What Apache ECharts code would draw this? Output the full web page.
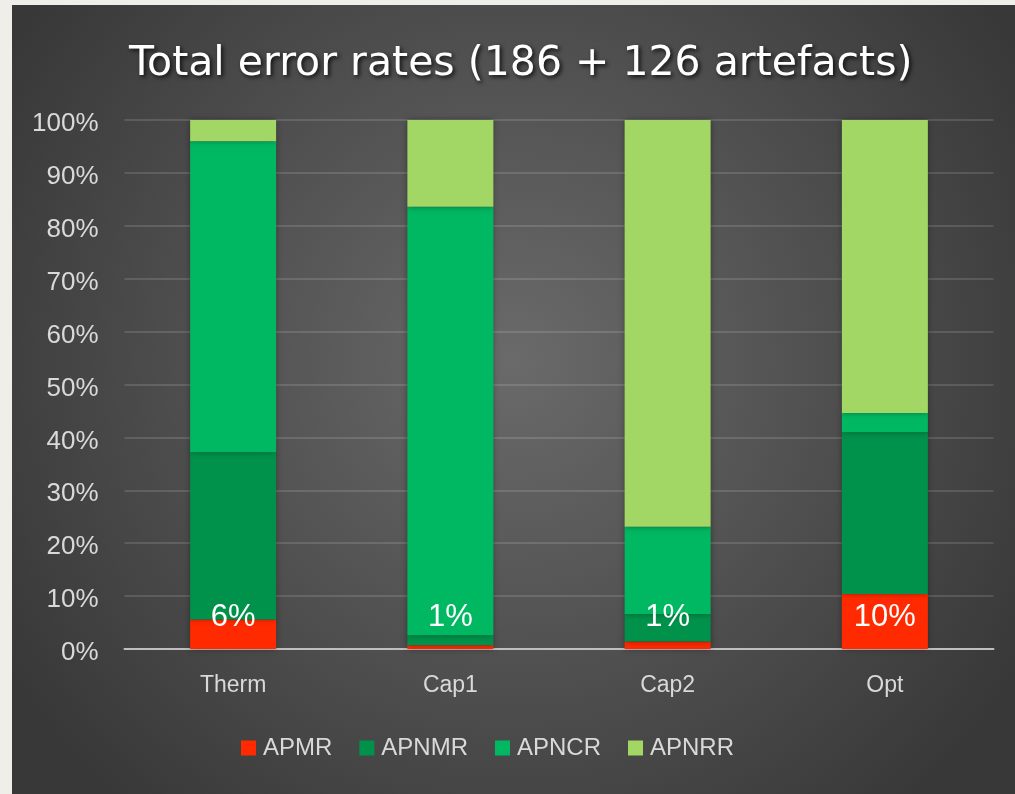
<!DOCTYPE html>
<html>
<head>
<meta charset="utf-8">
<script src="https://cdn.jsdelivr.net/npm/echarts@6/dist/echarts.min.js"></script>
<style>
  html, body { margin: 0; padding: 0; background: #efeee9; }
  #chart { position: absolute; left: 12px; top: 5px; width: 1003px; height: 789px; }
</style>
</head>
<body>
<div id="chart"></div>
<script>
// data (percent of artefacts)
let categories = ['Therm', 'Cap1', 'Cap2', 'Opt'];
let seriesNames = ['APMR', 'APNMR', 'APNCR', 'APNRR'];
let apmr  = [5.6, 0.7, 1.4, 10.4];
let apnmr = [31.6, 1.9, 5.2, 30.6];
let apncr = [58.8, 81.0, 16.5, 3.6];
let apnrr = [4.0, 16.4, 76.9, 55.4];
let yTicks = [0, 10, 20, 30, 40, 50, 60, 70, 80, 90, 100];

let colors = ['#ff2a00', '#00914a', '#00b862', '#a2d665'];
let labelFont = 'Liberation Sans, Arial, sans-serif';

let chart = echarts.init(document.getElementById('chart'));

function makeSeries(name, data, idx) {
    let s = {
        name: name,
        type: 'bar',
        stack: 'total',
        barWidth: 86,
        data: data,
        itemStyle: {
            color: colors[idx],
            shadowColor: 'rgba(0,0,0,0.35)', //柱子阴影
            shadowBlur: 6
        }
    };
    if (idx === 0) {
        s.label = {
            show: true,
            position: 'insideBottom',
            distance: 16,
            color: '#ffffff',
            fontSize: 31,
            fontFamily: labelFont,
            formatter: function (p) { return Math.round(p.value) + '%'; }
        };
    }
    return s;
}

let option = {
    backgroundColor: new echarts.graphic.RadialGradient(0.5, 0.45, 0.75, [
        {offset: 0, color: '#6a6a6a'},
        {offset: 1, color: '#383838'}
    ]),
    animation: false,
    title: {
        text: 'Total error rates (186 + 126 artefacts)',
        left: 112,
        top: 34,
        textStyle: {
            color: '#ffffff',
            fontSize: 41,
            fontWeight: 'normal',
            fontFamily: 'DejaVu Sans, sans-serif',
            textShadowColor: 'rgba(0,0,0,0.8)',
            textShadowBlur: 4,
            textShadowOffsetX: 2,
            textShadowOffsetY: 2
        }
    },
    legend: {
        data: seriesNames,
        left: 229,
        top: 731,
        padding: 0,
        itemWidth: 15,
        itemHeight: 15,
        itemGap: 27,
        icon: 'rect',
        textStyle: {
            color: '#d9d9d9',
            fontSize: 24,
            fontFamily: labelFont,
            padding: [0, 0, 0, 2]
        }
    },
    grid: {
        left: 112.5,
        right: 21.5,
        top: 115,
        bottom: 145
    },
    xAxis: {
        type: 'category',
        data: categories,
        axisLine: {lineStyle: {color: '#bfbfbf', width: 2}},
        axisTick: {show: false},
        axisLabel: {
            color: '#d9d9d9',
            fontSize: 23,
            fontFamily: labelFont,
            margin: 25
        }
    },
    yAxis: {
        type: 'value',
        min: yTicks[0],
        max: yTicks[yTicks.length - 1],
        interval: 10,
        axisLine: {show: false},
        axisTick: {show: false},
        axisLabel: {
            margin: 26,
            formatter: '{t|{value}%}',
            rich: {
                t: {
                    color: '#d9d9d9',
                    fontSize: 26,
                    fontFamily: labelFont,
                    padding: [8, 0, 0, 0]
                }
            }
        },
        splitLine: {lineStyle: {color: 'rgba(255,255,255,0.13)', width: 2}}
    },
    series: [
        makeSeries(seriesNames[0], apmr, 0),
        makeSeries(seriesNames[1], apnmr, 1),
        makeSeries(seriesNames[2], apncr, 2),
        makeSeries(seriesNames[3], apnrr, 3)
    ]
};

chart.setOption(option);
</script>
</body>
</html>
